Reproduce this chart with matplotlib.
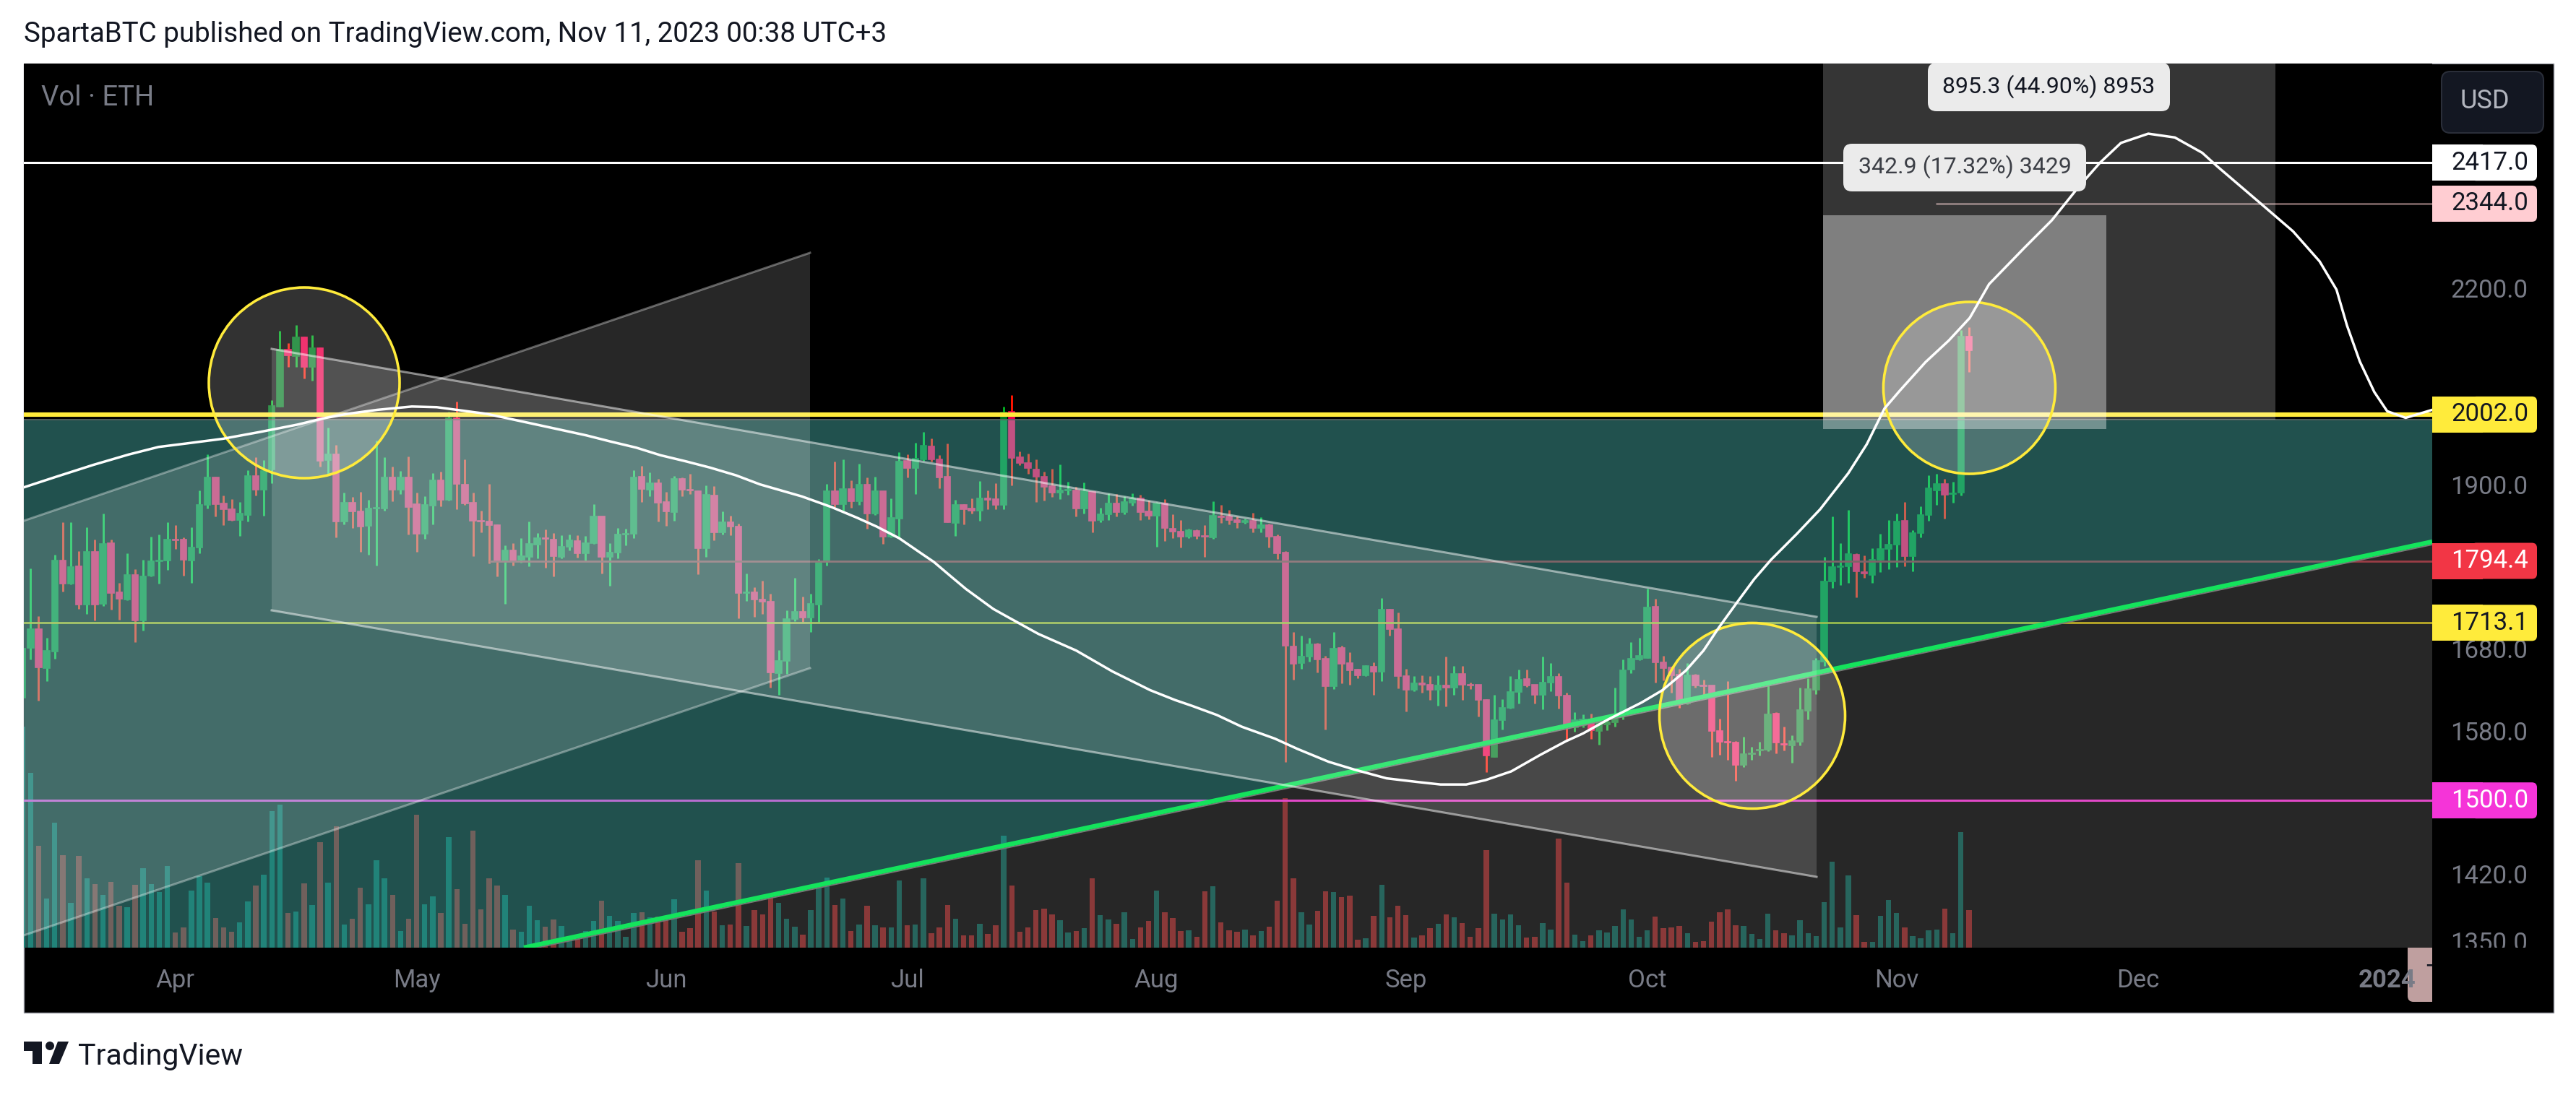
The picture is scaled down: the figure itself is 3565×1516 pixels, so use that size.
import matplotlib
matplotlib.use('Agg')
import matplotlib.pyplot as plt
from matplotlib.patches import Polygon, Rectangle, Ellipse, FancyBboxPatch, Circle
from matplotlib.ticker import FixedLocator, NullLocator, FixedFormatter
from matplotlib.transforms import Affine2D

plt.rcParams['font.family'] = ['Roboto', 'DejaVu Sans']

W, H = 3566, 1516

# daily candles, index 0 = 13 Mar 2023
opens = [
    1620,1681,1705,1656,1677,1795,1764,1787,1737,1807,
    1738,1818,1753,1743,1776,1716,1775,1794,1795,1823,
    1823,1795,1812,1871,1910,1873,1865,1850,1857,1912,
    1892,1921,2014,2102,2091,2121,2074,2104,1935,1943,
    1848,1874,1862,1842,1866,1866,1910,1892,1910,1872,
    1831,1870,1906,1878,1997,1900,1874,1849,1848,1843,
    1795,1809,1796,1800,1816,1825,1823,1800,1813,1821,
    1805,1818,1855,1800,1806,1830,1831,1911,1893,1902,
    1875,1861,1908,1892,1890,1811,1884,1833,1847,1841,
    1752,1753,1743,1740,1650,1665,1718,1727,1720,1737,
    1793,1890,1872,1894,1876,1900,1859,1890,1827,1852,
    1934,1923,1936,1955,1936,1911,1846,1871,1866,1863,
    1880,1879,1871,2006,1939,1931,1921,1911,1898,1888,
    1891,1891,1866,1889,1850,1858,1873,1861,1874,1880,
    1862,1856,1873,1838,1834,1827,1835,1828,1826,1855,
    1855,1850,1847,1849,1839,1843,1827,1806,1683,1662,
    1670,1686,1668,1634,1681,1662,1654,1647,1658,1652,
    1730,1705,1646,1629,1637,1636,1629,1635,1632,1649,
    1636,1636,1617,1550,1593,1608,1627,1643,1636,1623,
    1638,1645,1622,1584,1587,1594,1580,1588,1590,1601,
    1654,1667,1669,1734,1663,1657,1648,1613,1647,1635,
    1635,1580,1567,1566,1540,1553,1557,1558,1601,1565,
    1563,1567,1604,1629,1664,1767,1786,1787,1803,1779,
    1776,1796,1810,1816,1849,1801,1832,1857,1891,1901,
    1886,1888,2122]
closes = [
    1680,1705,1657,1678,1795,1764,1786,1737,1807,1737,
    1817,1752,1744,1776,1716,1774,1794,1795,1823,1822,
    1796,1812,1871,1910,1872,1865,1850,1859,1912,1892,
    1919,2015,2102,2092,2121,2074,2104,1934,1943,1848,
    1874,1862,1841,1866,1867,1910,1892,1910,1868,1831,
    1871,1906,1878,1997,1901,1873,1849,1848,1843,1795,
    1809,1795,1801,1817,1825,1824,1801,1813,1822,1805,
    1818,1855,1800,1806,1830,1831,1910,1894,1902,1874,
    1862,1908,1893,1891,1811,1885,1833,1847,1841,1752,
    1753,1743,1740,1651,1665,1718,1727,1720,1738,1793,
    1890,1872,1894,1876,1900,1859,1890,1827,1853,1933,
    1923,1937,1956,1936,1910,1847,1871,1865,1863,1880,
    1878,1871,2005,1938,1931,1923,1911,1897,1888,1891,
    1892,1866,1890,1849,1858,1873,1861,1875,1880,1861,
    1856,1873,1839,1834,1827,1836,1828,1827,1856,1854,
    1850,1847,1849,1839,1843,1827,1805,1684,1661,1670,
    1686,1667,1634,1680,1661,1653,1647,1659,1652,1730,
    1705,1646,1629,1637,1636,1629,1635,1632,1649,1636,
    1635,1617,1551,1593,1608,1627,1642,1635,1623,1638,
    1645,1622,1585,1593,1594,1581,1590,1590,1594,1653,
    1668,1671,1733,1663,1656,1647,1612,1647,1635,1634,
    1580,1567,1566,1540,1553,1554,1558,1600,1566,1564,
    1568,1605,1630,1665,1767,1786,1787,1804,1780,1778,
    1796,1810,1816,1848,1801,1832,1857,1895,1901,1885,
    1887,2122,2100]
highs = [
    1690,1784,1722,1694,1803,1847,1847,1808,1840,1823,
    1859,1823,1765,1805,1783,1796,1827,1830,1847,1843,
    1826,1840,1891,1943,1911,1884,1879,1875,1920,1939,
    1935,2024,2131,2112,2141,2122,2124,2105,1983,1957,
    1888,1882,1889,1878,1963,1939,1926,1919,1940,1888,
    1883,1916,1918,2006,2021,1936,1888,1863,1901,1844,
    1815,1818,1825,1848,1832,1837,1832,1829,1830,1829,
    1828,1872,1855,1818,1839,1838,1920,1927,1917,1908,
    1889,1912,1910,1915,1891,1899,1898,1862,1856,1845,
    1778,1759,1768,1751,1679,1729,1772,1747,1751,1797,
    1901,1933,1936,1906,1930,1910,1911,1890,1880,1946,
    1943,1960,1976,1967,1942,1959,1878,1872,1880,1905,
    1891,1902,2014,2031,1947,1944,1936,1918,1922,1929,
    1904,1897,1903,1890,1867,1887,1886,1883,1887,1885,
    1877,1875,1879,1858,1850,1838,1837,1843,1876,1871,
    1864,1855,1852,1860,1854,1845,1830,1808,1701,1697,
    1694,1688,1671,1701,1684,1676,1655,1660,1663,1745,
    1731,1726,1655,1646,1647,1646,1647,1670,1659,1659,
    1638,1636,1618,1623,1618,1646,1654,1654,1636,1670,
    1662,1650,1626,1602,1600,1601,1597,1596,1632,1667,
    1689,1694,1757,1744,1671,1658,1655,1662,1649,1642,
    1635,1595,1640,1568,1573,1561,1567,1640,1602,1585,
    1575,1632,1644,1669,1800,1855,1818,1864,1805,1802,
    1811,1831,1850,1859,1875,1836,1869,1913,1915,1908,
    1904,2132,2137]
lows = [
    1592,1667,1616,1640,1668,1754,1763,1731,1725,1716,
    1735,1730,1717,1742,1689,1703,1774,1764,1782,1810,
    1775,1765,1805,1866,1855,1843,1849,1828,1848,1884,
    1856,1902,2014,2074,2075,2057,2053,1926,1915,1826,
    1844,1839,1807,1803,1788,1863,1876,1886,1830,1807,
    1824,1844,1869,1877,1865,1871,1801,1833,1791,1774,
    1738,1788,1792,1787,1798,1785,1774,1798,1809,1799,
    1794,1817,1778,1761,1798,1815,1825,1875,1883,1848,
    1842,1849,1883,1886,1777,1800,1822,1830,1829,1719,
    1741,1721,1725,1632,1623,1649,1715,1714,1701,1714,
    1788,1868,1863,1867,1871,1838,1857,1817,1826,1826,
    1910,1886,1934,1933,1895,1847,1828,1844,1859,1849,
    1865,1865,1865,1899,1928,1915,1875,1877,1882,1879,
    1885,1855,1859,1833,1847,1850,1855,1858,1870,1850,
    1851,1813,1821,1825,1812,1825,1824,1800,1824,1846,
    1844,1839,1845,1833,1833,1812,1797,1544,1642,1655,
    1664,1651,1582,1630,1637,1636,1644,1646,1623,1640,
    1697,1631,1603,1628,1626,1617,1610,1609,1623,1617,
    1630,1597,1532,1550,1582,1607,1613,1633,1613,1606,
    1628,1607,1569,1579,1584,1571,1564,1581,1585,1594,
    1650,1666,1669,1638,1641,1626,1608,1612,1632,1623,
    1550,1552,1546,1522,1538,1546,1551,1556,1554,1557,
    1543,1563,1594,1624,1659,1758,1762,1765,1746,1772,
    1765,1779,1783,1786,1787,1780,1826,1849,1871,1852,
    1874,1884,2067]
volumes = [
    918,725,422,205,520,385,187,380,287,263,
    220,272,173,167,260,329,263,230,338,62,
    83,236,296,269,122,83,65,104,191,257,
    302,566,593,143,149,266,176,437,269,503,
    95,119,248,179,362,287,218,68,119,551,
    179,212,143,458,242,98,485,158,287,257,
    218,74,65,173,113,86,116,89,40,35,
    68,110,194,131,110,44,143,146,125,130,
    113,200,65,80,362,236,149,92,95,350,
    89,155,137,206,185,119,86,53,155,263,
    290,176,203,68,95,173,92,83,83,278,
    92,95,287,59,83,176,119,50,50,98,
    56,92,464,257,65,83,155,161,137,113,
    62,68,80,287,134,116,98,146,35,83,
    110,236,146,122,68,71,44,233,254,104,
    71,65,74,50,68,86,194,620,287,146,
    95,152,233,230,209,215,32,38,131,260,
    125,173,134,41,50,80,98,137,125,101,
    44,80,404,140,116,137,92,41,44,101,
    74,452,269,53,26,50,71,62,89,158,
    116,44,71,128,80,83,89,59,23,26,
    107,146,158,92,89,56,35,140,71,59,
    50,113,59,47,188,356,83,299,134,23,
    23,131,197,143,83,47,38,71,74,161,
    60,480,156]

# hand drawn white path: candle index, price
path_idx = [
    0.2,4.2,8.8,13.2,16.9,20.3,24.9,29.5,34.2,37.3,40.4,44.1,48.4,51.5,54.6,57.7,
    60.8,63.9,67.0,70.1,73.1,76.3,79.3,82.5,85.5,88.7,91.7,96.9,100.6,103.8,106.2,
    109,111.8,113.3,115.5,117.3,120.7,122.6,126.3,131,135.5,140.2,143.3,145.4,148.5,
    151.6,155.7,158.5,162.4,165.6,169.6,173.3,176.3,179.5,181.9,185.1,188.7,191.9,
    194,197.2,201.3,203.9,206.8,209,210.9,213.2,215.3,217.4,220.6,223.5,227,229.3,
    231.5,233.4,236.6,239.5,242.1,244.5,248.9,252.3,255.6,258.3,260.9,264.3,267.6,
    271,272.9,278.3,282.3,285.6,287.7,289,290.6,292.4,294,296.3,299.6]
path_price = [
    1896,1911,1928,1943,1954,1959,1966,1976,1987,1996,2003,2009,2014,2013,2008,2003,
    1995,1987,1979,1971,1962,1953,1942,1933,1924,1913,1900,1883,1868,1853,1841,
    1825,1804,1793,1773,1757,1731,1720,1699,1678,1652,1629,1617,1610,1599,
    1585,1571,1559,1544,1535,1525,1521,1518,1518,1523,1533,1552,1568,
    1577,1594,1614,1629,1653,1678,1707,1740,1770,1796,1831,1865,1916,1958,
    2011,2038,2082,2116,2152,2207,2268,2315,2373,2417,2453,2470,2463,
    2435,2410,2344,2296,2245,2198,2140,2083,2036,2007,1997,2009]

price_ticks = [2200, 1900, 1680, 1580, 1420, 1350]
month_idx = [19, 49, 80, 110, 141, 172, 202, 233, 263, 294]
month_labels = ['Apr', 'May', 'Jun', 'Jul', 'Aug', 'Sep', 'Oct', 'Nov', 'Dec', '2024']
level_prices = [2417.0, 2344.0, 2002.0, 1794.4, 1713.1, 1500.0]
level_fill = ['#ffffff', '#ffcdd2', '#ffeb3b', '#f23645', '#ffeb3b', '#f534d8']
level_text = ['#131722', '#131722', '#131722', '#ffffff', '#131722', '#ffffff']

fig = plt.figure(figsize=(W / 100, H / 100), dpi=100, facecolor='white')
L, R, T, B = 33, 3366, 88, 1312
rect = [L / W, 1 - B / H, (R - L) / W, (B - T) / H]
px = Affine2D().scale(1, -1).translate(0, H)

ax_bg = fig.add_axes([0, 0, 1, 1], zorder=0)
ax_bg.set_xlim(0, W)
ax_bg.set_ylim(H, 0)
ax_bg.axis('off')
ax_vol = fig.add_axes(rect, zorder=1, facecolor='black')
ax = fig.add_axes(rect, zorder=2)
ax.patch.set_visible(False)
ax_top = fig.add_axes([0, 0, 1, 1], zorder=3)
ax_top.set_xlim(0, W)
ax_top.set_ylim(H, 0)
ax_top.axis('off')

# page frame
ax_bg.add_patch(Rectangle((33, 88), 3501, 1314, fc='black', ec='#9598a1', lw=1))
ax_bg.add_patch(FancyBboxPatch((3332, 1300), 60, 87, boxstyle='round,pad=0,rounding_size=8',
                               fc='#bf9f9f', ec='none', zorder=2))
ax_bg.text(3357, 1350, 'T', color='#131722', fontsize=25, va='center', zorder=3)
ax_bg.add_patch(Rectangle((3366, 89), 167, 1312, fc='black', ec='none', zorder=4))

# volume
x_all = list(range(len(opens)))
vol_col = ['#00493f' if c >= o else '#751515' for o, c in zip(opens, closes)]
ax_vol.bar(x_all, volumes, width=0.67, color=vol_col)
ax_vol.set_xlim(0.16, 299.6)
ax_vol.set_ylim(0, 3672)
ax_vol.set_xticks([])
ax_vol.set_yticks([])
for s in ax_vol.spines.values():
    s.set_visible(False)

# candles
up = [c >= o for o, c in zip(opens, closes)]
wick_col = ['#00b020' if u else '#ff1400' for u in up]
body_col = ['#007a20' if u else '#ee004c' for u in up]
ax.set_yscale('log')
ax.vlines(x_all, lows, highs, colors=wick_col, lw=2.1, zorder=2)
ax.bar(x_all, [abs(c - o) for o, c in zip(opens, closes)],
       bottom=[min(o, c) for o, c in zip(opens, closes)],
       width=0.75, color=body_col, edgecolor=body_col, lw=1.2, zorder=2.1)

# horizontal levels that stay under the drawings
ax.hlines(2002.0, 0, 300, colors='#ffeb3b', lw=4.4, zorder=2.5)
ax.hlines(1713.1, 0, 300, colors='#b8a400', lw=1.9, zorder=2.5)
ax.hlines(1794.4, 58, 300, colors='#8a1a25', lw=2.0, zorder=2.5)
ax.hlines(1500.0, 0, 300, colors='#dc28be', lw=2.2, zorder=2.5)
ax.hlines(2344.0, 237.9, 300, colors='#6d5858', lw=2.2, zorder=2.5)

# green trend line with the zones it splits
ax.add_patch(Polygon([(33, 582), (3366, 582), (3366, 750), (725, 1312), (33, 1312)],
                     transform=px, fc=(103 / 255, 1.0, 0.96), alpha=0.32, ec='none', zorder=3))
ax.add_patch(Polygon([(725, 1312), (3366, 750), (3366, 1312)],
                     transform=px, fc='white', alpha=0.157, ec='none', zorder=3))
ax.plot([33, 3366], [581, 581], transform=px, color='#5f6f6d', lw=1.2, zorder=3)
ax.plot([725, 3366], [1316, 754], transform=px, color='#777777', lw=1.4, zorder=3.1)
ax.plot([725, 3366], [1312, 750], transform=px, color='#14e35c', lw=4.6, zorder=3.2,
        solid_capstyle='butt')

# channels
ax.add_patch(Polygon([(33, 721), (1121, 350), (1121, 925), (33, 1295)], transform=px,
                     fc='white', alpha=0.157, ec='none', zorder=4))
ax.plot([33, 1121], [721, 350], transform=px, color='white', alpha=0.35, lw=2.2, zorder=4.1)
ax.plot([33, 1121], [1295, 925], transform=px, color='white', alpha=0.35, lw=2.2, zorder=4.1)
ax.add_patch(Polygon([(376, 483), (2514, 854), (2514, 1214), (376, 845)], transform=px,
                     fc='white', alpha=0.157, ec='none', zorder=4))
ax.plot([376, 2514], [483, 854], transform=px, color='white', alpha=0.5, lw=2.2, zorder=4.1)
ax.plot([376, 2514], [845, 1214], transform=px, color='white', alpha=0.5, lw=2.2, zorder=4.1)

# projection boxes
ax.add_patch(Rectangle((2523, 88), 626, 493, transform=px, fc='white', alpha=0.21, ec='none', zorder=4))
ax.add_patch(Rectangle((2523, 298), 392, 296, transform=px, fc='white', alpha=0.37, ec='none', zorder=4))

# circles
for cx, cy, r in [(421, 530, 132), (2425, 991, 128.5), (2725.5, 537, 119)]:
    ax.add_patch(Ellipse((cx, cy), 2 * r, 2 * r, transform=px, fc=(1, 1, 1, 0.2),
                         ec='#ffeb3b', lw=2.6, zorder=5))

ax.hlines(2417.0, 0, 300, colors='white', lw=2.2, zorder=6)
ax.plot(path_idx, path_price, color='white', lw=2.5, zorder=6.5)

ax.set_xlim(0.16, 299.6)
ax.set_ylim(1343.6, 2603)
ax.yaxis.tick_right()
ax.yaxis.set_major_locator(FixedLocator(price_ticks))
ax.yaxis.set_major_formatter(FixedFormatter(['%.1f' % p for p in price_ticks]))
ax.yaxis.set_minor_locator(NullLocator())
ax.set_xticks(month_idx)
ax.set_xticklabels(month_labels)
ax.tick_params(axis='both', length=0, labelcolor='#787b86', labelsize=25)
ax.tick_params(axis='x', pad=21)
ax.tick_params(axis='y', pad=18)
for s in ax.spines.values():
    s.set_visible(False)
for lab in ax.get_xticklabels():
    if lab.get_text() == '2024':
        lab.set_fontweight('bold')

# right side labels
fig.canvas.draw()
ax_top.add_patch(Rectangle((3366, 1312), 167, 89, fc='black', ec='none'))
for price, fc, tc in zip(level_prices, level_fill, level_text):
    y = H - ax.transData.transform((0, price))[1]
    ax_top.add_patch(FancyBboxPatch((3420, y - 25), 91, 50, boxstyle='round,pad=0,rounding_size=7',
                                    fc=fc, ec='none', zorder=2))
    ax_top.add_patch(Rectangle((3366, y - 25), 70, 50, fc=fc, ec='none', zorder=2))
    ax_top.text(3392, y, '%.1f' % price, color=tc, fontsize=25, va='center', ha='left', zorder=3)

# measure labels
for x0, y0, w, h, txt, col in [(2668, 87, 335, 67, '895.3 (44.90%) 8953', '#131722'),
                               (2551, 199, 336, 66, '342.9 (17.32%) 3429', '#3c3f46')]:
    ax_top.add_patch(FancyBboxPatch((x0, y0), w, h, boxstyle='round,pad=0,rounding_size=12',
                                    fc='#ebebeb', ec='none', zorder=2))
    ax_top.text(x0 + w / 2, y0 + h / 2 - 1, txt, color=col, fontsize=23, ha='center', va='center', zorder=3)

# currency button
ax_top.add_patch(FancyBboxPatch((3379, 99), 141, 85, boxstyle='round,pad=0,rounding_size=12',
                                fc='#131722', ec='#2a2e39', lw=1.5))
ax_top.text(3439, 140, 'USD', color='#b2b5be', fontsize=26, ha='center', va='center')

ax_top.text(57, 135, 'Vol · ETH', color='#787b86', fontsize=27.5, va='center')
ax_top.text(33, 48, 'SpartaBTC published on TradingView.com, Nov 11, 2023 00:38 UTC+3',
            color='#131722', fontsize=27.7, va='center')

# logo
ax_top.add_patch(Polygon([(33, 1442), (58, 1442), (58, 1473), (45, 1473), (45, 1455), (33, 1455)],
                         fc='#131722', ec='none'))
ax_top.add_patch(Circle((69, 1448), 6, fc='#131722', ec='none'))
ax_top.add_patch(Polygon([(95, 1442), (80, 1442), (68, 1473), (82, 1473)], fc='#131722', ec='none'))
ax_top.text(108, 1462, 'TradingView', color='#131722', fontsize=29.5, va='center')

fig.savefig('out.png', dpi=100, facecolor='white')
